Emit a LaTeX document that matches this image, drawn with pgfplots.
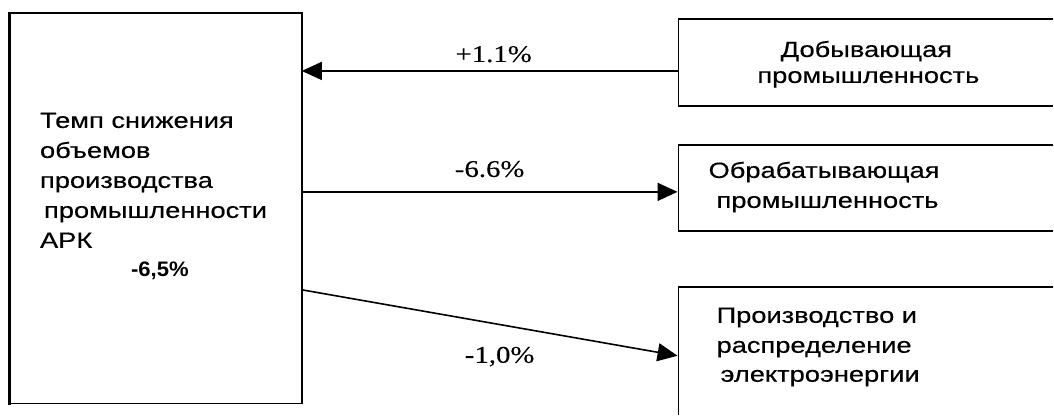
\documentclass[border=0pt]{standalone}
\usepackage{pgfplots}
\pgfplotsset{compat=1.18}
\usepackage{fontspec}
\usetikzlibrary{arrows.meta}
\setmainfont{Liberation Sans}
\newfontfamily\arialst[FakeStretch=1.24, FakeBold=0.4]{Liberation Sans}
\newfontfamily\arialbd[FakeStretch=1.05]{Liberation Sans Bold}
\newfontfamily\timesst[FakeStretch=1.2, FakeBold=0.3]{Liberation Serif}
\begin{document}
\begin{tikzpicture}
\begin{axis}[
  scale only axis, width=527pt, height=207.5pt,
  xmin=0, xmax=1054, ymin=0, ymax=415, y dir=reverse,
  hide axis, clip=false,
  every node/.style={inner sep=0pt, outer sep=0pt},
]
\addplot[draw=none] coordinates {(0,0) (1054,415)};
% left box
\addplot[black, line width=0.75pt] coordinates {(10,13) (302,13) (302,404) (10,404)};
\addplot[black, line width=1.5pt] coordinates {(10,12) (10,405)};
% right boxes (open to the right)
\addplot[black, line width=0.75pt] coordinates {(1054,19) (679,19) (679,106) (1054,106)};
\addplot[black, line width=0.75pt] coordinates {(1054,145) (679,145) (679,231) (1054,231)};
\addplot[black, line width=0.75pt] coordinates {(1054,287) (679,287) (679,415)};
% arrows
\addplot[black, line width=0.8pt, -{Triangle[length=10pt, width=9pt]}] coordinates {(679,71) (302,71)};
\addplot[black, line width=0.8pt, -{Triangle[length=10pt, width=9pt]}] coordinates {(302,192) (678,192)};
\addplot[black, line width=0.8pt, -{Triangle[length=10pt, width=9pt]}] coordinates {(302,290) (678,356)};
% left text
\node[anchor=base west, font=\arialst\fontsize{11}{13}\selectfont] at (axis cs:33,128) {Темп снижения};
\node[anchor=base west, font=\arialst\fontsize{11}{13}\selectfont] at (axis cs:33,158) {объемов};
\node[anchor=base west, font=\arialst\fontsize{11}{13}\selectfont] at (axis cs:33,188) {производства};
\node[anchor=base west, font=\arialst\fontsize{11}{13}\selectfont] at (axis cs:37,218) {промышленности};
\node[anchor=base west, font=\arialst\fontsize{11}{13}\selectfont] at (axis cs:33,248) {АРК};
\node[anchor=base, font=\arialbd\fontsize{10.5}{12}\selectfont] at (axis cs:160,277) {-6,5\%};
% right text
\node[anchor=base, font=\arialst\fontsize{11}{13}\selectfont] at (axis cs:867,57) {Добывающая};
\node[anchor=base, font=\arialst\fontsize{11}{13}\selectfont] at (axis cs:869,83) {промышленность};
\node[anchor=base west, font=\arialst\fontsize{11}{13}\selectfont] at (axis cs:702,178) {Обрабатывающая};
\node[anchor=base west, font=\arialst\fontsize{11}{13}\selectfont] at (axis cs:710,208) {промышленность};
\node[anchor=base west, font=\arialst\fontsize{11}{13}\selectfont] at (axis cs:710,323) {Производство и};
\node[anchor=base west, font=\arialst\fontsize{11}{13}\selectfont] at (axis cs:710,353) {распределение};
\node[anchor=base west, font=\arialst\fontsize{11}{13}\selectfont] at (axis cs:714,382) {электроэнергии};
% arrow labels
\node[anchor=base, font=\timesst\fontsize{12}{14}\selectfont] at (axis cs:494,62) {+1.1\%};
\node[anchor=base, font=\timesst\fontsize{12}{14}\selectfont] at (axis cs:490,177) {-6.6\%};
\node[anchor=base, font=\timesst\fontsize{12}{14}\selectfont] at (axis cs:500,363) {-1,0\%};
\end{axis}
\end{tikzpicture}
\end{document}
